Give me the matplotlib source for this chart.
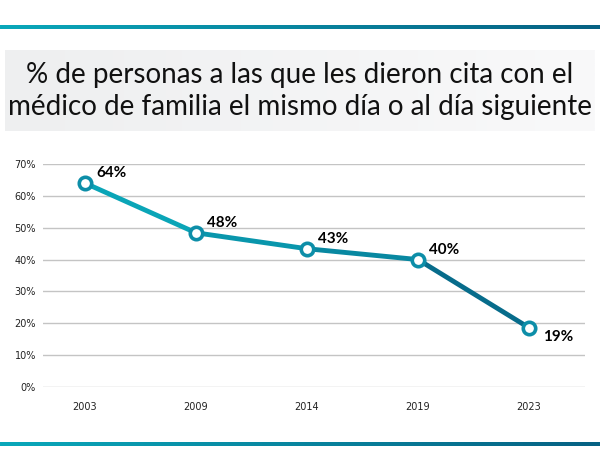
"""
Citas con el médico de familia el mismo día o al día siguiente.
"""

import numpy as np
import matplotlib
matplotlib.use("Agg")
import matplotlib.pyplot as plt
from matplotlib.collections import LineCollection
from matplotlib.colors import LinearSegmentedColormap

years = ["2003", "2009", "2014", "2019", "2023"]
pct = [64, 48.4, 43.4, 40, 18.6]
yticks = [0, 10, 20, 30, 40, 50, 60, 70]

title = ("% de personas a las que les dieron cita con el\n"
         "médico de familia el mismo día o al día siguiente")

W, H = 600, 471
fig = plt.figure(figsize=(W / 100, H / 100), dpi=100)
fig.patch.set_facecolor("white")

teal = LinearSegmentedColormap.from_list("teal", ["#0aa8ba", "#066183"])

# gradient bars top and bottom
grad = np.linspace(0, 1, 256).reshape(1, -1)
for y0, h in [(442, 4), (25, 4)]:
    bar = fig.add_axes([0, 1 - (y0 + h) / H, 1, h / H])
    bar.imshow(grad, aspect="auto", cmap=teal)
    bar.axis("off")

# title box
tb = fig.add_axes([5 / W, 1 - 131 / H, 590 / W, 81 / H])
gray = LinearSegmentedColormap.from_list("g", ["#eeeff0", "#f9f9fa"])
tb.imshow(grad, aspect="auto", cmap=gray)
tb.axis("off")
fig.text(0.5, 1 - 91 / H, title, ha="center", va="center", fontsize=20,
         family="Lato", color="#111111", linespacing=1.3)

# chart
ax = fig.add_axes([43 / W, 84 / H, 542 / W, 223 / H])
x = np.arange(len(years))
ax.set_xlim(-42 / 111, 4 + 56 / 111)
ax.set_ylim(0, 70)
for t in yticks:
    ax.axhline(t, color="#c4c4c4", lw=1, zorder=1)
for s in ax.spines.values():
    s.set_visible(False)

pts = np.column_stack([x, pct])
segs = np.stack([pts[:-1], pts[1:]], axis=1)
seg_cols = [teal(v) for v in [0.05, 0.25, 0.45, 0.85]]
ax.add_collection(LineCollection(segs, colors=seg_cols, linewidths=3.5,
                                 capstyle="round", zorder=2))
ax.scatter(x, pct, s=80, facecolor="white", edgecolor="#0d8ea8",
           linewidths=2.6, zorder=3)

for i, v in enumerate(pct):
    if i == len(pct) - 1:
        off = (10, -7)
    else:
        off = (8, 7)
    ax.annotate(f"{round(v)}%", (i, v), xytext=off,
                textcoords="offset points", fontsize=11, weight="bold",
                family="Lato", ha="left", va="center")

ax.set_xticks(x)
ax.set_xticklabels(years)
ax.set_yticks(yticks)
ax.set_yticklabels([f"{t}%" for t in yticks])
ax.tick_params(length=0, labelsize=7, colors="#222222")
ax.tick_params(axis="x", pad=11)
ax.tick_params(axis="y", pad=5)

fig.savefig("out.png", dpi=100)
